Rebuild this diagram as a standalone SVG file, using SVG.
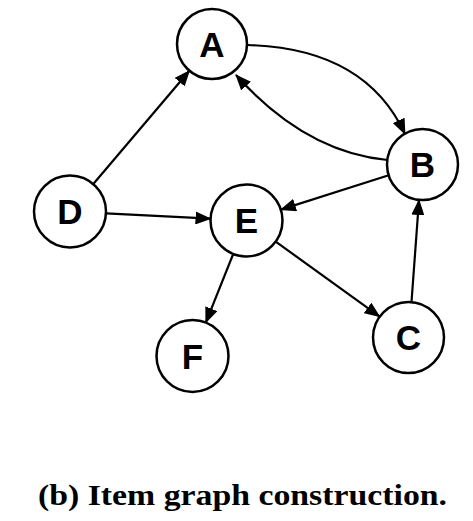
<svg xmlns="http://www.w3.org/2000/svg" width="473" height="521" viewBox="0 0 473 521">
<style>
.node circle{fill:#fff;stroke:#000;stroke-width:2.5}
.node text{font-family:"Liberation Sans",Arial,sans-serif;font-weight:bold;font-size:35px;text-anchor:middle;fill:#000}
.edge{fill:none;stroke:#000;stroke-width:2.2;marker-end:url(#arr)}
.cap{font-family:"Liberation Serif","Times New Roman",serif;font-weight:bold;font-size:30px;fill:#000}
</style>
<defs>
<marker id="arr" markerUnits="userSpaceOnUse" markerWidth="16" markerHeight="13" refX="15" refY="6.5" orient="auto">
<path d="M0,0 L16,6.5 L0,13 Z" fill="#000"/>
</marker>
</defs>
<rect width="473" height="521" fill="#fff"/>
<g id="connectors">
<path class="edge" d="M93.3,184 L189.4,70.7"/>
<path class="edge" d="M106,213.3 L210.5,218.7"/>
<path class="edge" d="M247,45 Q365,48 405,134"/>
<path class="edge" d="M387.5,160 Q305,152 236,75"/>
<path class="edge" d="M388.7,175.3 L280.8,209.6"/>
<path class="edge" d="M233.2,254 L205.8,322.6"/>
<path class="edge" d="M275.7,241.6 L379.7,316.7"/>
<path class="edge" d="M411.5,302 L419,200"/>
</g>
<g id="A" class="node"><circle cx="212" cy="44" r="35"/><text x="212" y="56.5">A</text></g>
<g id="B" class="node"><circle cx="422.5" cy="164.5" r="35.5"/><text x="422.5" y="177">B</text></g>
<g id="D" class="node"><circle cx="70" cy="211.5" r="36"/><text x="70" y="224">D</text></g>
<g id="E" class="node"><circle cx="246.5" cy="220.5" r="36"/><text x="246.5" y="233">E</text></g>
<g id="F" class="node"><circle cx="192.5" cy="356" r="36"/><text x="192.5" y="368.5">F</text></g>
<g id="C" class="node"><circle cx="408.5" cy="337.5" r="35.5"/><text x="408.5" y="350">C</text></g>
<text class="cap" x="38" y="505" textLength="409" lengthAdjust="spacingAndGlyphs">(b) Item graph construction.</text>
</svg>
